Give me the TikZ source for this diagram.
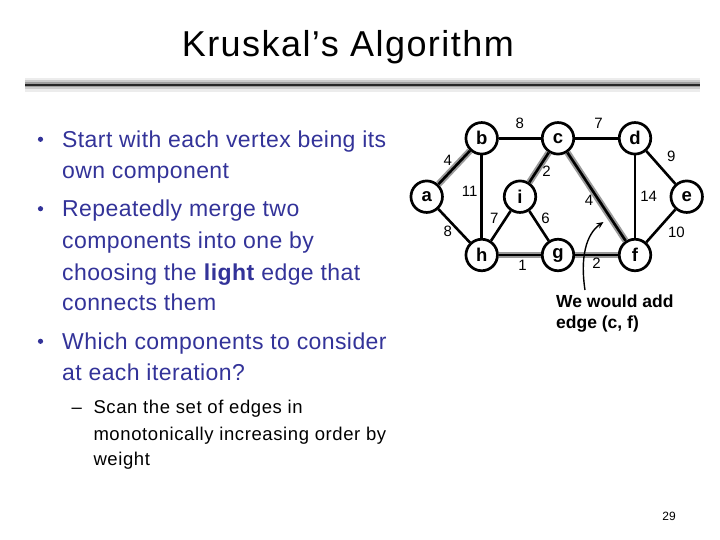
\documentclass[tikz,border=0pt]{standalone}
\usepackage{fontspec}
\setmainfont{Liberation Sans}
\newfontfamily\ttlfont[LetterSpace=4]{Liberation Sans}
\newfontfamily\bodyfont[LetterSpace=1.8]{Liberation Sans}
\newfontfamily\subfont[LetterSpace=3.2]{Liberation Sans}
\usetikzlibrary{arrows.meta}
\definecolor{navy}{HTML}{333399}
\definecolor{hilite}{HTML}{9A9A9A}
\tikzset{slide/.style={x=1pt,y=-1pt,line join=round,>=Stealth},
  vtx/.style={circle,draw,line width=2.7pt,minimum size=31.5pt,inner sep=0pt,fill=white,font=\bfseries\fontsize{18.5}{18.5}\selectfont},
  edg/.style={line width=2.6pt},
  mst/.style={hilite,line width=6.5pt},
  wt/.style={font=\fontsize{15}{15}\selectfont,inner sep=1pt},
  body/.style={navy,anchor=base west,inner sep=0pt,font=\bodyfont\fontsize{23}{23}\selectfont},
  sub/.style={anchor=base west,inner sep=0pt,font=\subfont\fontsize{18.5}{18.5}\selectfont}}

\begin{document}
\begin{tikzpicture}[slide]
  \useasboundingbox(0,0)rectangle(720,540);\fill[white](0,0)rectangle(720,540);
  % title and shaded rule
  \node[anchor=base west,inner sep=0pt,font=\ttlfont\fontsize{36}{36}\selectfont](ttl)at(181.7,56.7){Kruskal’s Algorithm};
  \draw[gray!15,line width=14pt](25,85)--(700,85);\draw[gray!40,line width=9pt](25,85)--(700,85);
  \draw[gray!75,line width=5pt](25,85)--(700,85);\draw[black!85,line width=2.4pt](25,85)--(700,85);
  % bullets
  \foreach \n/\y/\t in {1/147.3/Start with each vertex being its,2/178.3/own component,3/216.7/Repeatedly merge two,
    4/248.3/components into one by,5/280/{choosing the \textbf{light} edge that},6/310.7/connects them,
    7/349.3/Which components to consider,8/380/at each iteration?}
    \node[body](ln\n)at(62,\y){\t};
  \foreach \y in {147.3,216.7,349.3}\fill[navy](40.5,\y-8)circle(2.6);
  \node[sub](dash)at(71.5,413.3){–};
  \foreach \n/\y/\t in {1/413.3/Scan the set of edges in,2/440/monotonically increasing order by,3/465/weight}
    \node[sub](sb\n)at(93.3,\y){\t};
  \node[font=\fontsize{12}{12}\selectfont](pg)at(669,516){29};
  % graph
  \node[vtx](a)at(426.7,196.7){a};\node[vtx](b)at(481.7,138.3){b};\node[vtx](c)at(558,138.3){c};
  \node[vtx](d)at(635,138.3){d};\node[vtx](e)at(686.7,196.7){e};\node[vtx](i)at(520,196.7){i};
  \node[vtx](h)at(481.7,255){h};\node[vtx](g)at(558,255){g};\node[vtx](f)at(635,255){f};
  \foreach \u/\v in {a/b,c/i,c/f,h/g,g/f}\draw[mst](\u)--(\v);
  \draw[edg](a)--(b)node[wt,midway,above left]{4};
  \draw[edg](b)--(c)node[wt,midway,above=7pt]{8};
  \draw[edg](c)--(d)node[wt,midway,above=7pt,xshift=2pt]{7};
  \draw[edg](d)--(e)node[wt,midway,above right=4pt]{9};
  \draw[edg](b)--(h)node[wt,midway,left=2pt,yshift=5pt]{11};
  \draw[edg](c)--(i)node[wt,midway,right=1pt,yshift=-4pt]{2};
  \draw[edg](c)--(f)node[wt,midway,left=1pt,yshift=-3.5pt]{4};
  \draw[edg](d)--(f)node[wt,midway,right=3pt]{14};
  \draw[edg](a)--(h)node[wt,midway,below left=0pt,yshift=2pt]{8};
  \draw[edg](h)--(i)node[wt,midway,above left]{7};
  \draw[edg](i)--(g)node[wt,midway,above right]{6};
  \draw[edg](e)--(f)node[wt,midway,right=5pt,yshift=-6pt]{10};
  \draw[edg](h)--(g)node[wt,midway,below=3pt,xshift=2.7pt]{1};
  \draw[edg](g)--(f)node[wt,midway,below=1pt]{2};
  % note
  \node[anchor=base west,inner sep=0pt,font=\bfseries\fontsize{17.5}{17.5}\selectfont](note1)at(556,307.7){We would add};
  \node[anchor=base west,inner sep=0pt,font=\bfseries\fontsize{17.5}{17.5}\selectfont](note2)at(556,328.5){edge (c, f)};
  \coordinate(foot)at(585,290);\coordinate(tip)at(603.5,222);
  \draw[line width=1.4pt,-{Stealth[length=7pt,width=6pt]}](foot)..controls(580,258)and(586,234)..(tip);
\end{tikzpicture}
\end{document}
